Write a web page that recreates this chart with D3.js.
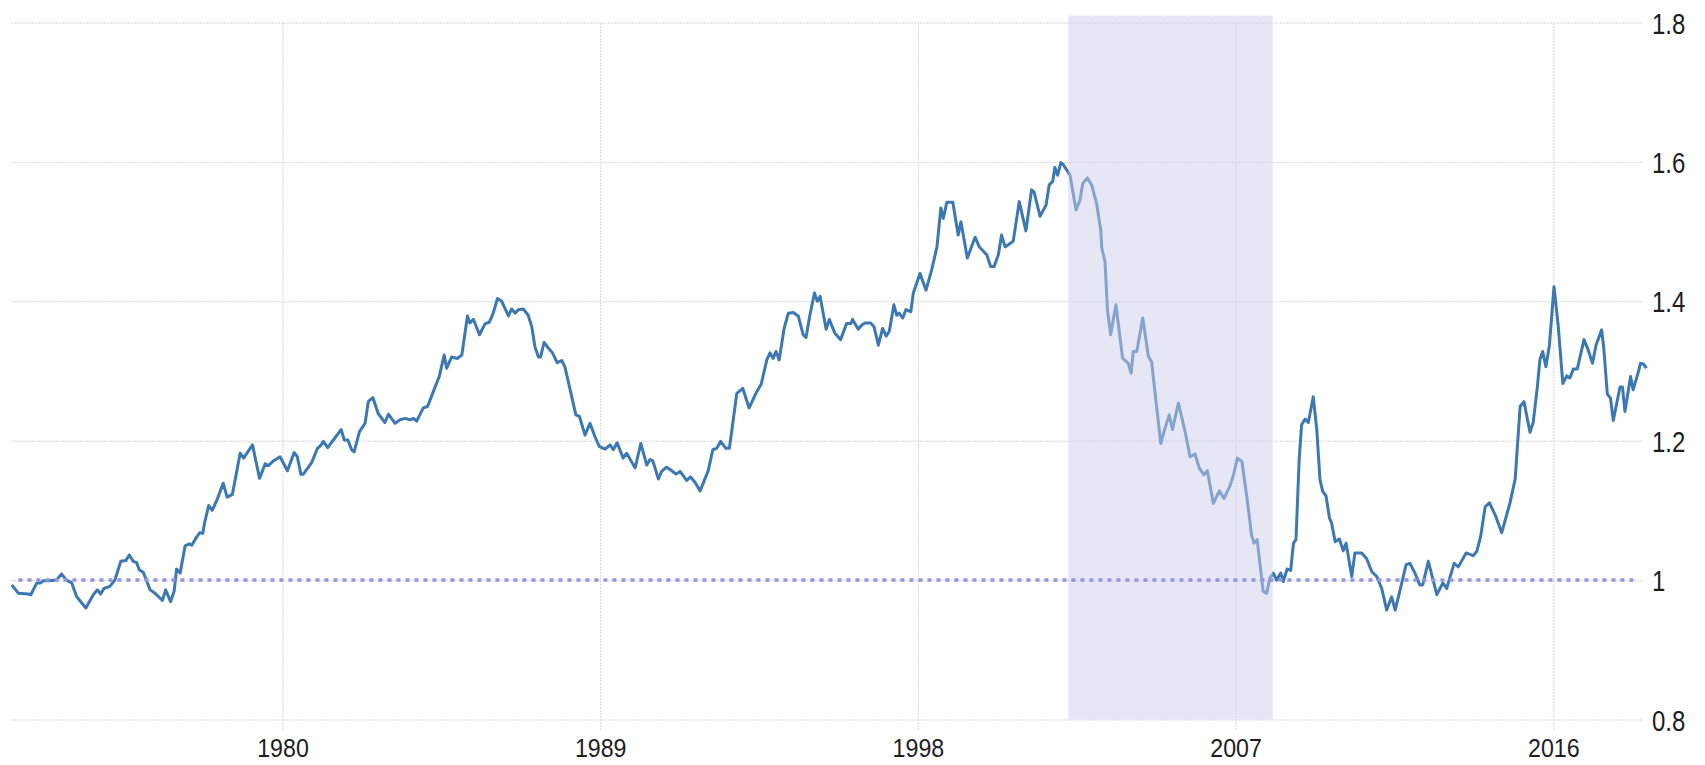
<!DOCTYPE html>
<html>
<head>
<meta charset="utf-8">
<script src="https://cdn.jsdelivr.net/npm/d3@7"></script>
<style>
body { margin: 0; background: #fff; }
svg { display: block; }
.grid line { stroke: #d6d6d6; stroke-dasharray: 2,1; }
.grid .domain { display: none; }
.tick text { fill: #1e1e1e; font-family: 'Liberation Sans', Arial, sans-serif; }
</style>
</head>
<body>
<svg width="1705" height="765"></svg>
<script>
// decimal years (roughly every visible turn of the line)
var years = [
    1972.33, 1972.52, 1972.80, 1972.87, 1973.04, 1973.15, 1973.22, 1973.37, 1973.60, 1973.74,
    1973.88, 1974.03, 1974.17, 1974.43, 1974.64, 1974.76, 1974.85, 1974.94, 1975.11, 1975.25,
    1975.42, 1975.56, 1975.66, 1975.77, 1975.87, 1975.94, 1976.06, 1976.25, 1976.39, 1976.60,
    1976.69, 1976.83, 1976.93, 1977.00, 1977.10, 1977.24, 1977.36, 1977.43, 1977.57, 1977.66,
    1977.74, 1977.80, 1977.91, 1978.01, 1978.16, 1978.32, 1978.43, 1978.58, 1978.80, 1978.90,
    1979.15, 1979.35, 1979.51, 1979.59, 1979.72, 1979.93, 1980.14, 1980.33, 1980.42, 1980.52,
    1980.59, 1980.83, 1980.99, 1981.08, 1981.16, 1981.28, 1981.44, 1981.66, 1981.75, 1981.85,
    1981.96, 1982.03, 1982.18, 1982.34, 1982.43, 1982.56, 1982.71, 1982.90, 1983.00, 1983.19,
    1983.33, 1983.47, 1983.61, 1983.71, 1983.80, 1983.99, 1984.11, 1984.27, 1984.44, 1984.58,
    1984.65, 1984.79, 1984.95, 1985.08, 1985.24, 1985.31, 1985.41, 1985.58, 1985.74, 1985.86,
    1985.97, 1986.09, 1986.21, 1986.40, 1986.49, 1986.59, 1986.68, 1986.82, 1986.96, 1987.06,
    1987.15, 1987.25, 1987.31, 1987.41, 1987.53, 1987.65, 1987.78, 1987.91, 1988.00, 1988.14,
    1988.31, 1988.41, 1988.57, 1988.71, 1988.85, 1988.97, 1989.14, 1989.28, 1989.37, 1989.48,
    1989.65, 1989.75, 1989.99, 1990.15, 1990.32, 1990.41, 1990.49, 1990.65, 1990.74, 1990.88,
    1991.00, 1991.15, 1991.26, 1991.45, 1991.56, 1991.69, 1991.83, 1992.06, 1992.19, 1992.30,
    1992.41, 1992.56, 1992.66, 1992.87, 1993.04, 1993.22, 1993.43, 1993.56, 1993.72, 1993.81,
    1993.90, 1993.98, 1994.07, 1994.21, 1994.33, 1994.47, 1994.61, 1994.75, 1994.83, 1994.94,
    1995.07, 1995.15, 1995.23, 1995.40, 1995.49, 1995.65, 1995.81, 1995.98, 1996.10, 1996.15,
    1996.31, 1996.41, 1996.50, 1996.66, 1996.76, 1996.88, 1997.00, 1997.10, 1997.19, 1997.32,
    1997.40, 1997.47, 1997.57, 1997.66, 1997.80, 1997.87, 1998.06, 1998.23, 1998.39, 1998.54,
    1998.65, 1998.72, 1998.82, 1998.99, 1999.14, 1999.22, 1999.40, 1999.62, 1999.74, 1999.87,
    1999.95, 2000.06, 2000.16, 2000.28, 2000.37, 2000.47, 2000.70, 2000.87, 2001.06, 2001.22,
    2001.29, 2001.46, 2001.63, 2001.72, 2001.82, 2001.88, 2001.96, 2002.05, 2002.12, 2002.31,
    2002.48, 2002.59, 2002.67, 2002.80, 2002.92, 2003.06, 2003.18, 2003.21, 2003.30, 2003.37,
    2003.46, 2003.61, 2003.80, 2003.96, 2004.04, 2004.10, 2004.20, 2004.37, 2004.53, 2004.62,
    2004.88, 2004.97, 2005.12, 2005.21, 2005.38, 2005.57, 2005.71, 2005.85, 2005.97, 2006.10,
    2006.20, 2006.37, 2006.54, 2006.67, 2006.84, 2006.93, 2007.05, 2007.18, 2007.33, 2007.45,
    2007.52, 2007.61, 2007.78, 2007.88, 2007.97, 2008.07, 2008.16, 2008.28, 2008.35, 2008.46,
    2008.56, 2008.64, 2008.71, 2008.80, 2008.87, 2008.97, 2009.06, 2009.20, 2009.30, 2009.39,
    2009.47, 2009.56, 2009.66, 2009.72, 2009.82, 2009.94, 2010.05, 2010.13, 2010.29, 2010.38,
    2010.57, 2010.71, 2010.86, 2011.00, 2011.14, 2011.28, 2011.42, 2011.52, 2011.66, 2011.83,
    2011.94, 2012.08, 2012.22, 2012.30, 2012.46, 2012.70, 2012.87, 2012.98, 2013.19, 2013.31,
    2013.53, 2013.73, 2013.83, 2013.94, 2014.07, 2014.19, 2014.35, 2014.54, 2014.68, 2014.77,
    2014.92, 2015.06, 2015.17, 2015.34, 2015.43, 2015.55, 2015.62, 2015.70, 2015.79, 2015.89,
    2016.02, 2016.14, 2016.27, 2016.38, 2016.47, 2016.57, 2016.68, 2016.87, 2016.99, 2017.11,
    2017.21, 2017.37, 2017.43, 2017.53, 2017.62, 2017.70, 2017.89, 2017.96, 2018.03, 2018.19,
    2018.26, 2018.40, 2018.47, 2018.55, 2018.64
];
var values = [
    0.993, 0.981, 0.980, 0.979, 0.996, 0.996, 0.999, 0.999, 1.000, 1.009,
    1.000, 0.996, 0.976, 0.960, 0.979, 0.986, 0.980, 0.988, 0.991, 1.000,
    1.027, 1.028, 1.036, 1.027, 1.025, 1.015, 1.011, 0.986, 0.981, 0.971,
    0.986, 0.969, 0.984, 1.016, 1.010, 1.049, 1.052, 1.050, 1.062, 1.068,
    1.067, 1.084, 1.107, 1.100, 1.117, 1.139, 1.119, 1.123, 1.182, 1.175,
    1.194, 1.146, 1.167, 1.164, 1.170, 1.177, 1.157, 1.183, 1.177, 1.152,
    1.152, 1.169, 1.189, 1.193, 1.199, 1.190, 1.201, 1.216, 1.201, 1.201,
    1.187, 1.184, 1.213, 1.225, 1.256, 1.262, 1.239, 1.226, 1.238, 1.225,
    1.230, 1.232, 1.230, 1.232, 1.228, 1.247, 1.249, 1.270, 1.292, 1.323,
    1.304, 1.320, 1.318, 1.323, 1.379, 1.369, 1.374, 1.352, 1.368, 1.370,
    1.383, 1.404, 1.400, 1.379, 1.389, 1.383, 1.388, 1.389, 1.380, 1.364,
    1.335, 1.320, 1.320, 1.341, 1.333, 1.326, 1.312, 1.315, 1.306, 1.275,
    1.237, 1.235, 1.208, 1.225, 1.206, 1.192, 1.188, 1.194, 1.187, 1.197,
    1.175, 1.182, 1.161, 1.196, 1.165, 1.173, 1.171, 1.145, 1.156, 1.162,
    1.158, 1.152, 1.156, 1.143, 1.148, 1.140, 1.128, 1.157, 1.187, 1.189,
    1.199, 1.189, 1.189, 1.268, 1.275, 1.247, 1.270, 1.281, 1.316, 1.326,
    1.318, 1.328, 1.316, 1.361, 1.383, 1.384, 1.379, 1.352, 1.348, 1.380,
    1.412, 1.400, 1.407, 1.360, 1.374, 1.354, 1.345, 1.368, 1.368, 1.374,
    1.360, 1.366, 1.369, 1.369, 1.363, 1.337, 1.361, 1.350, 1.357, 1.395,
    1.380, 1.383, 1.376, 1.388, 1.385, 1.412, 1.440, 1.416, 1.445, 1.478,
    1.534, 1.519, 1.542, 1.542, 1.495, 1.514, 1.462, 1.492, 1.478, 1.471,
    1.467, 1.450, 1.450, 1.467, 1.495, 1.478, 1.486, 1.543, 1.501, 1.560,
    1.557, 1.522, 1.538, 1.567, 1.572, 1.592, 1.581, 1.599, 1.596, 1.581,
    1.531, 1.545, 1.569, 1.577, 1.567, 1.541, 1.502, 1.476, 1.457, 1.388,
    1.352, 1.395, 1.318, 1.311, 1.297, 1.328, 1.328, 1.376, 1.321, 1.313,
    1.196, 1.213, 1.237, 1.216, 1.254, 1.213, 1.177, 1.181, 1.161, 1.151,
    1.157, 1.110, 1.128, 1.117, 1.135, 1.149, 1.175, 1.170, 1.115, 1.065,
    1.053, 1.058, 0.984, 0.981, 1.003, 1.010, 1.000, 1.010, 0.998, 1.016,
    1.014, 1.053, 1.058, 1.172, 1.223, 1.231, 1.226, 1.263, 1.216, 1.144,
    1.127, 1.121, 1.089, 1.082, 1.055, 1.059, 1.042, 1.053, 1.005, 1.039,
    1.039, 1.031, 1.012, 1.005, 0.988, 0.957, 0.976, 0.957, 0.986, 1.022,
    1.024, 1.010, 0.993, 0.993, 1.027, 0.979, 0.996, 0.988, 1.024, 1.019,
    1.039, 1.035, 1.041, 1.062, 1.105, 1.111, 1.094, 1.068, 1.094, 1.110,
    1.145, 1.249, 1.256, 1.212, 1.226, 1.278, 1.316, 1.328, 1.306, 1.337,
    1.421, 1.364, 1.282, 1.293, 1.290, 1.303, 1.303, 1.345, 1.330, 1.311,
    1.337, 1.359, 1.333, 1.267, 1.261, 1.229, 1.277, 1.277, 1.242, 1.292,
    1.273, 1.297, 1.311, 1.310, 1.304
];

var xTicks = [1980, 1989, 1998, 2007, 2016];
var yTicks = [0.8, 1, 1.2, 1.4, 1.6, 1.8];

// shaded period and the dotted reference level
var shadeYears = [2002.26, 2008.05];
var refValue = 1;
var refYears = [1972.52, 2018.35];

var svg = d3.select('svg');

var x = d3.scaleLinear().domain([1980, 2016]).range([282.5, 1553.3]);
var y = d3.scaleLinear().domain([0.8, 1.8]).range([719.5, 22.5]);

// vertical gridlines + year labels
var xAxisG = svg.append('g')
    .attr('class', 'grid x')
    .attr('transform', 'translate(0,730)')
    .call(d3.axisBottom(x).tickValues(xTicks).tickSize(-708).tickSizeOuter(0)
        .tickFormat(d3.format('d')));

xAxisG.selectAll('text')
    .attr('y', 0)
    .attr('dy', 0)
    .attr('font-size', 25.5)
    .attr('transform', 'translate(0,27) scale(0.91,1)');

// horizontal gridlines + value labels on the right
var yAxisG = svg.append('g')
    .attr('class', 'grid y')
    .attr('transform', 'translate(1642,0)')
    .call(d3.axisRight(y).tickValues(yTicks).tickSize(-1632).tickSizeOuter(0)
        .tickFormat(function(d) { return d; }));

yAxisG.selectAll('text')
    .attr('x', 0)
    .attr('dy', '0.35em')
    .attr('font-size', 30)
    .attr('transform', 'translate(10,0) scale(0.8,1)');

var series = d3.zip(years, values);

var line = d3.line()
    .x(function(d) { return x(d[0]); })
    .y(function(d) { return y(d[1]); });

svg.append('path')
    .datum(series)
    .attr('fill', 'none')
    .attr('stroke', '#3c78b2')
    .attr('stroke-width', 3)
    .attr('stroke-linejoin', 'round')
    .attr('d', line);

// band sits over the line so the line looks faded inside it
svg.append('rect')
    .attr('x', x(shadeYears[0]))
    .attr('width', x(shadeYears[1]) - x(shadeYears[0]))
    .attr('y', y(1.81))
    .attr('height', y(0.8) - y(1.81))
    .attr('fill', 'rgb(205,205,236)')
    .attr('fill-opacity', 0.5);

svg.append('line')
    .attr('x1', x(refYears[0]))
    .attr('x2', x(refYears[1]))
    .attr('y1', y(refValue))
    .attr('y2', y(refValue))
    .attr('stroke', 'rgb(148,148,230)')
    .attr('stroke-width', 3.5)
    .attr('stroke-dasharray', '4,5');
</script>
</body>
</html>
